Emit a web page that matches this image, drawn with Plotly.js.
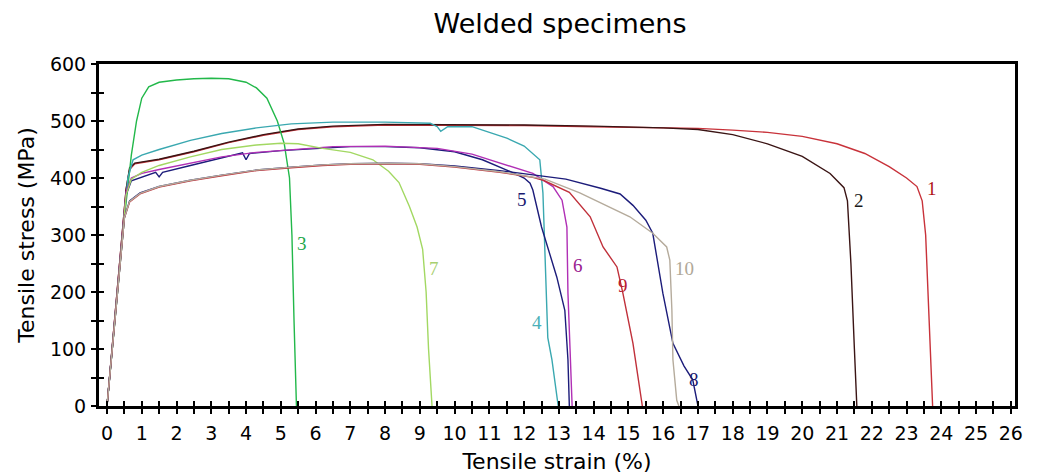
<!DOCTYPE html>
<html>
<head>
<meta charset="utf-8">
<script src="https://cdn.plot.ly/plotly-3.0.1.min.js"></script>
<style>html,body{margin:0;padding:0;background:#fff;} #chart{width:1043px;height:476px;}</style>
</head>
<body>
<div id="chart"></div>
<script>
// Specimen curves: strain (%) and stress (MPa)
const x1 = [0,0.3,0.55,0.65,0.8,1.5,2.5,3.5,4.5,5.5,6.5,8,10,12,14,16,17,18,19,20,21,21.8,22.5,23.0,23.3,23.45,23.55,23.65,23.75];
const y1 = [0,205,380,415,425,432,446,462,475,485,490,493,493,492,490,488,487,484,480,473,460,443,420,400,385,360,300,150,0];

const x2 = [0,0.3,0.55,0.65,0.8,1.5,2.5,3.5,4.5,5.5,6.5,8,10,12,14,16,17,18,19,20,20.8,21.2,21.3,21.4,21.5,21.57];
const y2 = [0,205,380,418,426,433,447,463,476,486,491,494,494,493,491,488,485,476,460,438,408,383,360,250,100,0];

const x3 = [0,0.3,0.5,0.7,0.85,1.0,1.2,1.5,2,2.5,3,3.5,4,4.3,4.6,4.9,5.1,5.25,5.32,5.38,5.45];
const y3 = [0,200,330,440,500,540,560,568,572,574,575,574,568,558,540,500,460,400,300,150,0];

const x4 = [0,0.3,0.6,0.75,1,1.5,2.4,3.3,4.3,5.3,6.5,8,9.3,9.5,9.6,9.8,10.5,11,11.5,12,12.25,12.45,12.54,12.6,12.65,12.68,12.8,12.94,12.98];
const y4 = [0,205,400,432,440,450,466,478,488,495,498,498,496,490,482,490,490,480,470,456,442,432,374,256,139,120,81,10,0];

const x5 = [0,0.3,0.55,0.7,1,1.4,1.5,1.6,2.4,3.3,3.9,4.0,4.1,5,6,7,8,9,10,10.8,11.5,12,12.17,12.25,12.5,12.94,13.17,13.26,13.3];
const y5 = [0,205,370,395,402,410,402,410,422,435,444,432,443,448,452,455,455,453,446,432,414,400,391,379,314,226,168,81,0];

const x6 = [0,0.3,0.55,0.7,1,1.5,2.4,3.3,4.3,5.3,6.5,8,9.5,10.5,11.3,12.25,12.83,13.09,13.23,13.26,13.32,13.38];
const y6 = [0,205,375,400,408,415,426,437,445,450,455,456,452,442,426,408,385,361,314,198,100,0];

const x7 = [0,0.3,0.55,0.7,1,1.5,2.4,3.3,4.3,5,5.5,6.2,7,7.65,8.1,8.4,8.7,8.92,9.08,9.18,9.25,9.35];
const y7 = [0,205,370,398,410,422,437,450,458,461,460,452,445,432,412,392,350,314,275,200,100,0];

const x8 = [0,0.3,0.5,0.65,0.95,1.5,2.4,3.3,4.3,5.3,6.2,7,8.1,9,10,11.3,12.25,13.2,14.2,14.76,15.13,15.5,15.7,15.99,16.28,16.6,16.85,17.0];
const y8 = [0,205,330,360,374,385,396,405,414,419,423,425,426,425,421,413,406,398,382,372,352,326,303,198,110,70,46,0];

const x9 = [0,0.3,0.5,0.65,0.95,1.5,2.4,3.3,4.3,5.3,6.2,7,8.1,9,10,11.3,12.25,12.55,13.3,13.9,14.27,14.67,14.84,15.13,15.33,15.4];
const y9 = [0,205,330,358,372,384,395,404,413,418,422,424,425,424,419,410,401,396,375,332,279,244,198,110,23,0];

const x10 = [0,0.3,0.5,0.65,0.95,1.5,2.4,3.3,4.3,5.3,6.2,7,8.1,9,10,11.3,12.25,12.6,13.6,15.04,15.7,16.1,16.19,16.25,16.28,16.39,16.45];
const y10 = [0,205,330,359,373,385,396,405,414,419,423,425,426,425,420,411,402,398,374,332,303,279,256,168,81,10,0];

const seriesX = [x1,x2,x3,x4,x5,x6,x7,x8,x9,x10];
const seriesY = [y1,y2,y3,y4,y5,y6,y7,y8,y9,y10];
const lineColors = ['#c8323a','#3a1414','#22b84a','#3aa8b0','#1c1c7a','#b02fb5','#a2d862','#1c1c7a','#c0303a','#b5ab9c'];

// Curve labels
const labelText = ['1','2','3','4','5','6','7','8','9','10'];
const labelX = [23.72,21.62,5.62,12.36,11.95,13.55,9.4,16.88,14.85,16.6];
const labelY = [382,360,285,146,362,247,242,46,212,242];
const labelColors = ['#b01515','#1a1a1a','#22a84a','#4ab0b8','#1a1a70','#9a2090','#a8d070','#1a1a70','#b82030','#b0a898'];

const xTickVals = Array.from({length:27},(_,i)=>i);
const yTickVals = [0,100,200,300,400,500,600];

const traces = seriesX.map((xs,i)=>({
  x: xs, y: seriesY[i], type:'scatter', mode:'lines',
  line:{color: lineColors[i], width:1.4}, hoverinfo:'skip', showlegend:false
}));
// empty trace on the overlay axes to produce crossing ticks
traces.push({x:[0],y:[0],xaxis:'x2',yaxis:'y2',mode:'markers',marker:{opacity:0},showlegend:false,hoverinfo:'skip'});

const annotations = labelText.map((t,i)=>({
  x: labelX[i], y: labelY[i], text: t, showarrow:false,
  xanchor:'center', yanchor:'middle',
  font:{family:'Liberation Serif, serif', size:19, color: labelColors[i]}
}));

const xr = [-0.23, 26.12];
const yr = [0, 600];
const font = {family:'DejaVu Sans, Verdana, sans-serif', color:'#000'};

const layout = {
  width:1043, height:476,
  margin:{l:99, r:28, t:64, b:70},
  paper_bgcolor:'#fff', plot_bgcolor:'#fff',
  title:{text:'Welded specimens', font:{...font, size:27}, x:0.537, xanchor:'center', y:0.95, yanchor:'middle'},
  xaxis:{
    range:xr, tickmode:'array', tickvals:xTickVals, ticks:'outside', ticklen:5, tickwidth:2, tickcolor:'#000',
    minor:{dtick:0.5, ticks:'outside', ticklen:5, tickwidth:2, tickcolor:'#000'},
    showline:true, linecolor:'#000', linewidth:3, mirror:true, showgrid:false, zeroline:false,
    tickfont:{...font, size:19}, ticklabelstandoff:3,
    title:{text:'Tensile strain (%)', font:{...font, size:22}, standoff:11}
  },
  yaxis:{
    range:yr, tickmode:'array', tickvals:yTickVals, ticks:'outside', ticklen:5, tickwidth:2, tickcolor:'#000',
    minor:{dtick:50, ticks:'outside', ticklen:5, tickwidth:2, tickcolor:'#000'},
    showline:true, linecolor:'#000', linewidth:3, mirror:true, showgrid:false, zeroline:false,
    tickfont:{...font, size:19}, ticklabelstandoff:1,
    title:{text:'Tensile stress (MPa)', font:{...font, size:22}, standoff:10}
  },
  xaxis2:{
    overlaying:'x', matches:'x', range:xr, side:'bottom', anchor:'y2',
    tickmode:'array', tickvals:xTickVals, ticks:'inside', ticklen:5, tickwidth:2, tickcolor:'#000',
    minor:{dtick:0.5, ticks:'inside', ticklen:5, tickwidth:2, tickcolor:'#000'},
    showticklabels:false, showgrid:false, zeroline:false, showline:false
  },
  yaxis2:{
    overlaying:'y', matches:'y', range:yr, side:'left', anchor:'x2',
    tickmode:'array', tickvals:yTickVals, ticks:'inside', ticklen:5, tickwidth:2, tickcolor:'#000',
    minor:{dtick:50, ticks:'inside', ticklen:5, tickwidth:2, tickcolor:'#000'},
    showticklabels:false, showgrid:false, zeroline:false, showline:false
  },
  annotations: annotations
};

Plotly.newPlot('chart', traces, layout, {staticPlot:true, displayModeBar:false});
</script>
</body>
</html>
